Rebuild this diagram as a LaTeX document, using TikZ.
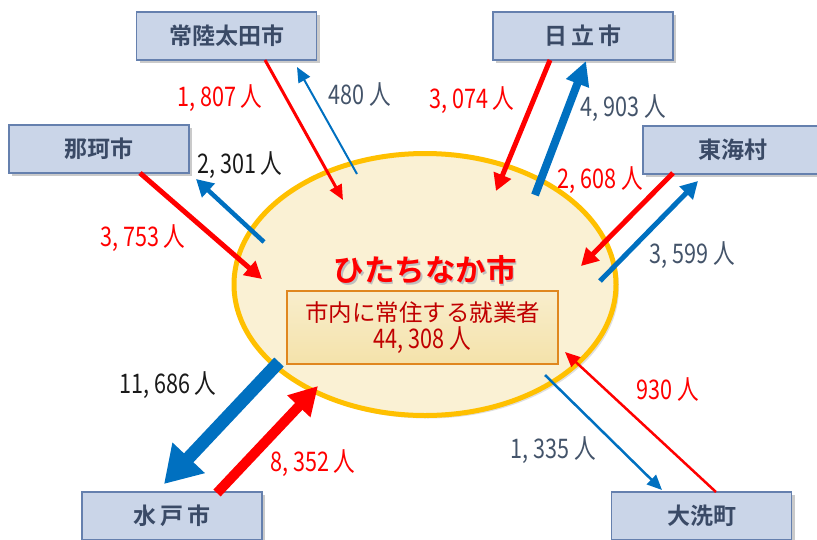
\documentclass[tikz,border=0pt]{standalone}
\usepackage{fontspec}
\usetikzlibrary{arrows.meta,shadows,shapes.geometric}
\newfontfamily\jpb{Noto Sans CJK JP Bold}
\newfontfamily\jpr{Noto Sans CJK JP}
\newfontfamily\numfont[FakeStretch=0.8]{Noto Sans CJK JP}
\definecolor{boxfill}{HTML}{CAD5E8}
\definecolor{boxline}{HTML}{6580AE}
\definecolor{boxtext}{HTML}{3A4A66}
\definecolor{ellfill}{HTML}{FAF1D4}
\definecolor{ellline}{HTML}{FFC000}
\definecolor{inbox}{HTML}{F4E2AA}
\definecolor{inline}{HTML}{E0871E}
\definecolor{darkred}{HTML}{C00000}
\definecolor{fred}{HTML}{FF0000}
\definecolor{fblue}{HTML}{0070C0}
\definecolor{grayblue}{HTML}{44546A}
\definecolor{nearblack}{HTML}{1A1A1A}
\tikzset{
  citybox/.style={draw=boxline, line width=1.2pt, fill=boxfill, minimum width=180pt, minimum height=48pt,
    font=\jpb\fontsize{23}{26}\selectfont, text=boxtext, inner sep=0pt,
    drop shadow={shadow xshift=3pt, shadow yshift=-3pt, opacity=0.35, fill=black!60}},
  lbl/.style={font=\numfont\fontsize{27}{30}\selectfont, inner sep=0pt},
  tipthin/.style={-{Triangle[length=15pt, width=13pt]}},
  tipmid/.style={-{Triangle[length=17pt, width=18pt]}},
  tipbig/.style={-{Triangle[length=24pt, width=23pt]}},
  tipred/.style={-{Triangle[length=28pt, width=30pt]}},
  tiphuge/.style={-{Triangle[length=36pt, width=42pt]}},
}
\begin{document}
\begin{tikzpicture}[x=1pt,y=-1pt]
\useasboundingbox (0,0) rectangle (817,539);
% central ellipse
\draw[line width=5pt, draw=ellline, fill=ellfill,
  drop shadow={shadow xshift=3pt, shadow yshift=-3pt, opacity=0.25, fill=black!50}]
  (425,284.5) ellipse [x radius=191, y radius=131];
\node (cityS) at (426.5,271.5) {\textcolor{black!25}{\jpb\fontsize{30.5}{33}\selectfont ひたちなか市}};
\node (city) at (425,270) {\textcolor{fred}{\jpb\fontsize{30.5}{33}\selectfont ひたちなか市}};
\node[draw=inline, line width=1.5pt, top color=inbox!60, bottom color=inbox, minimum width=271pt, minimum height=73pt,
  align=center, font=\jpr\fontsize{23.5}{27}\selectfont, text=darkred, inner sep=0pt] (inner) at (422.5,327.5)
  {市内に常住する就業者\\{\numfont\fontsize{27}{28}\selectfont 44, 308 人}};
% city boxes
\node[citybox] (hitachiota) at (226.5,36) {常陸太田市};
\node[citybox] (hitachi) at (583,36) {日\,立\,市};
\node[citybox] (naka) at (99,149) {那珂市};
\node[citybox] (tokai) at (733,150) {東海村};
\node[citybox] (mito) at (172,516) {水\,戸\,市};
\node[citybox] (oarai) at (701.5,516) {大洗町};
% connector end points
\coordinate (a1s) at (265,60);  \coordinate (a1e) at (343,200);
\coordinate (b1s) at (357,174); \coordinate (b1e) at (297,67);
\coordinate (a2s) at (140,173); \coordinate (a2e) at (262,279);
\coordinate (b2s) at (264,242); \coordinate (b2e) at (196,179);
\coordinate (a3s) at (550,60);  \coordinate (a3e) at (496,191);
\coordinate (b3s) at (535,195); \coordinate (b3e) at (586,61);
\coordinate (a4s) at (673,173); \coordinate (a4e) at (581,266);
\coordinate (b4s) at (600,281); \coordinate (b4e) at (698,181);
\coordinate (b5s) at (279,362); \coordinate (b5e) at (164,484);
\coordinate (a5s) at (217,493); \coordinate (a5e) at (318,386);
\coordinate (b6s) at (545,375); \coordinate (b6e) at (662,490);
\coordinate (a6s) at (716,492); \coordinate (a6e) at (565,352);
% arrows
\draw[fred, tipthin, line width=3pt] (a1s) -- (a1e);
\draw[fblue, tipthin, line width=2pt] (b1s) -- (b1e);
\draw[fred, tipmid, line width=5pt] (a2s) -- (a2e);
\draw[fblue, tipmid, line width=4.5pt] (b2s) -- (b2e);
\draw[fred, tipmid, line width=5pt] (a3s) -- (a3e);
\draw[fblue, tipbig, line width=8pt] (b3s) -- (b3e);
\draw[fred, tipmid, line width=5pt] (a4s) -- (a4e);
\draw[fblue, tipmid, line width=5pt] (b4s) -- (b4e);
\draw[fblue, tiphuge, line width=13pt] (b5s) -- (b5e);
\draw[fred, tipred, line width=10pt] (a5s) -- (a5e);
\draw[fblue, tipthin, line width=2.5pt] (b6s) -- (b6e);
\draw[fred, tipthin, line width=2.5pt] (a6s) -- (a6e);
% labels
\node[lbl, text=fred] (l1) at (220,98) {1, 807 人};
\node[lbl, text=grayblue] (l2) at (360,95) {480 人};
\node[lbl, text=nearblack] (l3) at (240,165) {2, 301 人};
\node[lbl, text=fred] (l4) at (143,238) {3, 753 人};
\node[lbl, text=fred] (l5) at (472,100) {3, 074 人};
\node[lbl, text=grayblue] (l6) at (623,108) {4, 903 人};
\node[lbl, text=fred] (l7) at (600,180) {2, 608 人};
\node[lbl, text=grayblue] (l8) at (692,255) {3, 599 人};
\node[lbl, text=nearblack] (l9) at (168,385) {11, 686 人};
\node[lbl, text=fred] (l10) at (313,463) {8, 352 人};
\node[lbl, text=fred] (l11) at (668,390) {930 人};
\node[lbl, text=grayblue] (l12) at (553,450) {1, 335 人};
\end{tikzpicture}
\end{document}
